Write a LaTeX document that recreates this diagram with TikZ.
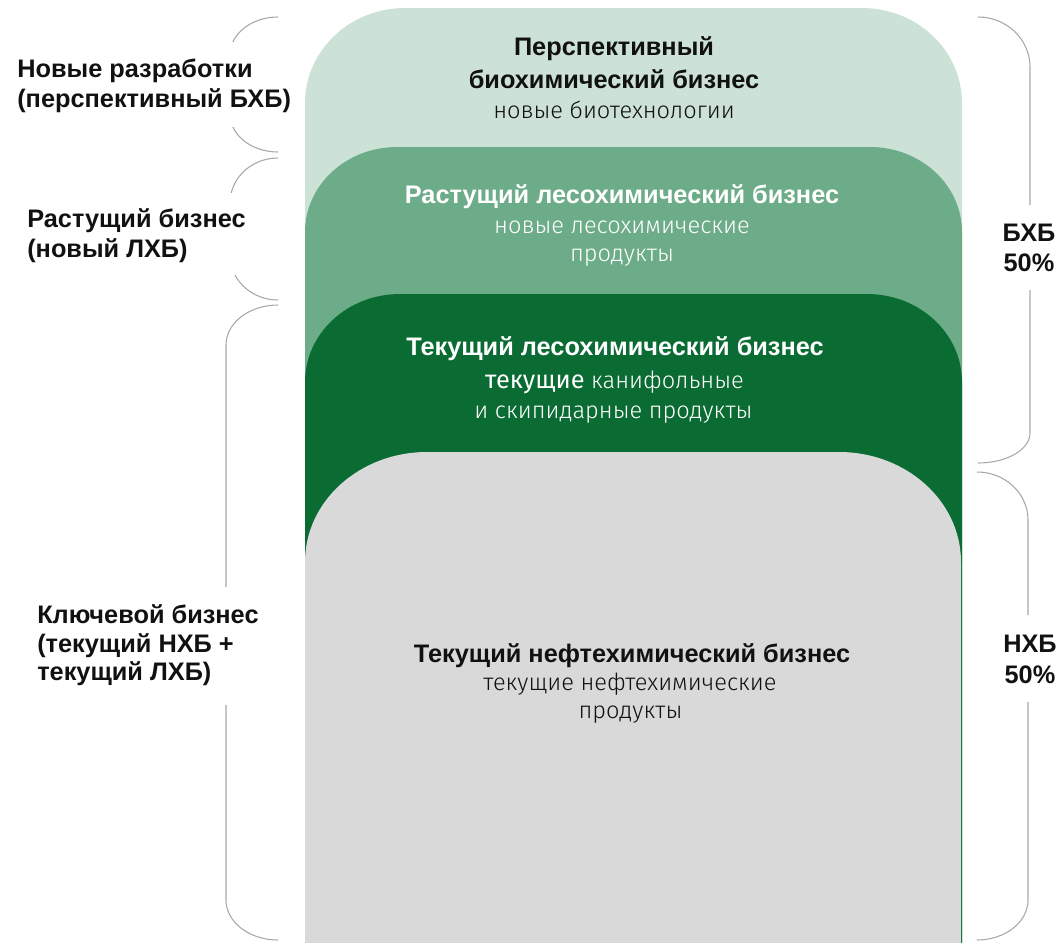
\documentclass[tikz,border=0pt]{standalone}
\usepackage{fontspec}
\setmainfont{Liberation Sans}
\newfontfamily\lightf{Fira Sans Light}
\newfontfamily\regf{Fira Sans}
\definecolor{lgreen}{HTML}{CCE2D6}
\definecolor{mgreen}{HTML}{6DAC88}
\definecolor{dgreen}{HTML}{0A6B33}
\definecolor{lgrey}{HTML}{D9D9D9}
\definecolor{bracegrey}{HTML}{A8A8A8}
\definecolor{ink}{HTML}{111111}
\begin{document}
\begin{tikzpicture}[x=0.75pt,y=-0.75pt,
  brace/.style={draw=bracegrey,line width=0.8pt},
  ctr/.style={anchor=base,inner sep=0pt},
  lbl/.style={anchor=base west,inner sep=0pt,font=\fontsize{19}{22}\selectfont\bfseries,text=ink},
  rlbl/.style={anchor=base,inner sep=0pt,font=\fontsize{19}{22}\selectfont\bfseries,text=ink},
  head/.style={ctr,font=\fontsize{19}{22}\selectfont\bfseries},
  thin/.style={ctr,font=\fontsize{17.7}{20}\selectfont\lightf}]
\useasboundingbox (0,0) rectangle (1061,943);
% stacked shapes
\fill[lgreen] (305,943) -- (305,103) arc[start angle=180,end angle=270,x radius=100,y radius=95]
  -- (862,8) arc[start angle=270,end angle=360,x radius=100,y radius=95] -- (962,943) -- cycle;
\fill[mgreen] (305,943) -- (305,232) arc[start angle=180,end angle=270,x radius=92,y radius=85]
  -- (870,147) arc[start angle=270,end angle=360,x radius=92,y radius=85] -- (962,943) -- cycle;
\fill[dgreen] (305,943) -- (305,382) arc[start angle=180,end angle=270,x radius=95,y radius=88]
  -- (867,294) arc[start angle=270,end angle=360,x radius=95,y radius=88] -- (962,943) -- cycle;
\fill[lgrey] (305,943) -- (305,562) arc[start angle=180,end angle=270,x radius=122,y radius=110]
  -- (839,452) arc[start angle=270,end angle=360,x radius=122,y radius=110] -- (961,943) -- cycle;
% left braces
\draw[brace] (278,17) arc[start angle=270,end angle=200,x radius=48,y radius=38];
\draw[brace] (232.9,127) arc[start angle=160,end angle=90,x radius=48,y radius=38];
\draw[brace] (278,158) arc[start angle=270,end angle=193,x radius=48,y radius=45];
\draw[brace] (235,275) arc[start angle=153.6,end angle=90,x radius=48,y radius=45];
\draw[brace] (278,305) arc[start angle=270,end angle=180,x radius=52,y radius=40] -- (226,587);
\draw[brace] (226,705) -- (226,900) arc[start angle=180,end angle=90,x radius=52,y radius=40];
% right braces
\draw[brace] (978,17) arc[start angle=270,end angle=360,x radius=52,y radius=50] -- (1030,205);
\draw[brace] (1030,290) -- (1030,433) arc[start angle=0,end angle=90,x radius=52,y radius=30];
\draw[brace] (977,472) arc[start angle=270,end angle=360,x radius=51,y radius=48] -- (1028,615);
\draw[brace] (1028,702) -- (1028,900) arc[start angle=0,end angle=90,x radius=51,y radius=40];
% texts in shapes
\node[head,text=ink] (p1) at (614,55) {Перспективный};
\node[head,text=ink] (p2) at (614,88) {биохимический бизнес};
\node[thin,text=ink] (p3) at (614,118) {новые биотехнологии};
\node[head,text=white] (r1) at (622,203) {Растущий лесохимический бизнес};
\node[thin,text=white] (r2) at (622,233) {новые лесохимические};
\node[thin,text=white] (r3) at (622,261) {продукты};
\node[head,text=white] (t1) at (615,355) {Текущий лесохимический бизнес};
\node[thin,text=white] (t2) at (614.5,388) {{\regf\fontsize{19}{20}\selectfont текущие} канифольные};
\node[thin,text=white] (t3) at (613.5,418) {и скипидарные продукты};
\node[head,text=ink] (n1) at (632,662) {Текущий нефтехимический бизнес};
\node[thin,text=ink] (n2) at (630,690) {текущие нефтехимические};
\node[thin,text=ink] (n3) at (630.5,718) {продукты};
% left labels
\node[lbl] (a1) at (17,77) {Новые разработки};
\node[lbl] (a2) at (17,107) {(перспективный БХБ)};
\node[lbl] (b1) at (27,227) {Растущий бизнес};
\node[lbl] (b2) at (27,257) {(новый ЛХБ)};
\node[lbl] (c1) at (37,623) {Ключевой бизнес};
\node[lbl] (c2) at (37,652) {(текущий НХБ +};
\node[lbl] (c3) at (37,680) {текущий ЛХБ)};
% right labels
\node[rlbl] (d1) at (1029,241) {БХБ};
\node[rlbl] (d2) at (1029,271) {50\%};
\node[rlbl] (e1) at (1030,652) {НХБ};
\node[rlbl] (e2) at (1030,683) {50\%};
\end{tikzpicture}
\end{document}
